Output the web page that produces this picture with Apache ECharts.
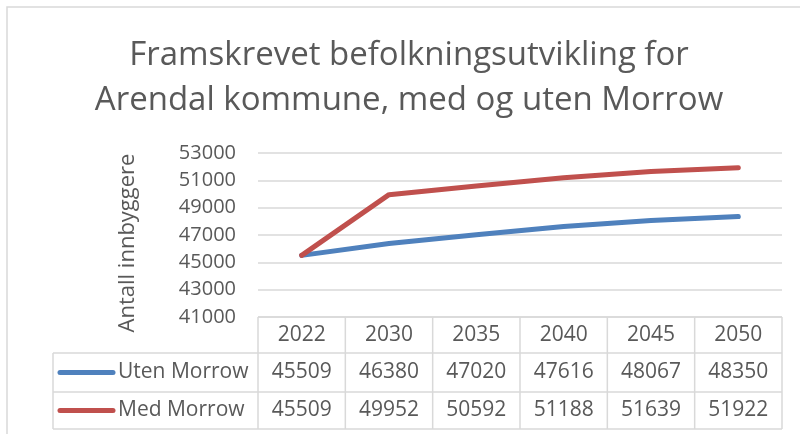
<!DOCTYPE html>
<html>
<head>
<meta charset="utf-8">
<script src="https://cdn.jsdelivr.net/npm/echarts@6/dist/echarts.min.js"></script>
<style>
html, body { margin: 0; padding: 0; background: #fff; }
#main { width: 800px; height: 434px; }
</style>
</head>
<body>
<div id="main"></div>
<script>
var years = ["2022", "2030", "2035", "2040", "2045", "2050"];
var utenMorrow = [45509, 46380, 47020, 47616, 48067, 48350];
var medMorrow = [45509, 49952, 50592, 51188, 51639, 51922];
var seriesNames = ["Uten Morrow", "Med Morrow"];
var seriesColors = ["#4f81bd", "#c0504d"];

var FONT = "Open Sans";
var TXT = "#595959";
var LINE = "#d9d9d9";

var myChart = echarts.init(document.getElementById("main"));
var option = {
  animation: false,
  grid: { left: 258, right: 18, top: 153, bottom: 117 },
  xAxis: {
    type: "category",
    data: years,
    boundaryGap: true,
    axisLine: { show: false },
    axisTick: { show: false },
    axisLabel: { show: false }
  },
  yAxis: {
    type: "value",
    min: 41000,
    max: 53000,
    interval: 2000,
    axisLine: { show: false },
    axisTick: { show: false },
    axisLabel: {
      color: TXT, fontFamily: FONT, fontSize: 20, margin: 22,
      formatter: function (v) { return String(v); }
    },
    splitLine: { lineStyle: { color: LINE, width: 1.5 } }
  },
  series: [
    {
      name: seriesNames[0], type: "line", data: utenMorrow, symbol: "none",
      lineStyle: { color: seriesColors[0], width: 5, cap: "round", join: "round" }
    },
    {
      name: seriesNames[1], type: "line", data: medMorrow, symbol: "none",
      lineStyle: { color: seriesColors[1], width: 5, cap: "round", join: "round" }
    }
  ]
};
myChart.setOption(option);

// data table under the plot
var rows = [utenMorrow, medMorrow];
var rowTop = [317, 353, 392, 429];
var legendLeft = 53;
var x0 = myChart.convertToPixel({ xAxisIndex: 0 }, 0);
var x1 = myChart.convertToPixel({ xAxisIndex: 0 }, 1);
var half = (x1 - x0) / 2;
var gridLeft = x0 - half;
var gridRight = myChart.convertToPixel({ xAxisIndex: 0 }, years.length - 1) + half;

var els = [];
els.push({ type: "rect", shape: { x: 7, y: 7, width: 820, height: 460 },
  style: { fill: null, stroke: LINE, lineWidth: 1.5 }, silent: true });
els.push({ type: "text", x: 409, y: 78,
  style: { text: "Framskrevet befolkningsutvikling for\nArendal kommune, med og uten Morrow",
    fill: TXT, font: "33px '" + FONT + "'", align: "center", verticalAlign: "middle", lineHeight: 45 } });
els.push({ type: "text", x: 128, y: 243, rotation: Math.PI / 2,
  style: { text: "Antall innbyggere", fill: TXT, font: "22px '" + FONT + "'",
    align: "center", verticalAlign: "middle" } });

function hline(xa, xb, y) {
  els.push({ type: "line", shape: { x1: xa, y1: y, x2: xb, y2: y }, style: { stroke: LINE, lineWidth: 1.5 } });
}
function vline(x, ya, yb) {
  els.push({ type: "line", shape: { x1: x, y1: ya, x2: x, y2: yb }, style: { stroke: LINE, lineWidth: 1.5 } });
}
hline(gridLeft, gridRight, rowTop[0]);
for (var r = 1; r < rowTop.length; r++) hline(legendLeft, gridRight, rowTop[r]);
vline(legendLeft, rowTop[1], rowTop[3]);
for (var c = 0; c <= years.length; c++) vline(gridLeft + c * 2 * half, rowTop[0], rowTop[3]);

for (var i = 0; i < years.length; i++) {
  var cx = myChart.convertToPixel({ xAxisIndex: 0 }, i);
  els.push({ type: "text", x: cx, y: (rowTop[0] + rowTop[1]) / 2,
    style: { text: years[i], fill: TXT, font: "21px '" + FONT + "'", align: "center", verticalAlign: "middle" } });
  for (var k = 0; k < rows.length; k++) {
    els.push({ type: "text", x: cx, y: (rowTop[k + 1] + rowTop[k + 2]) / 2,
      style: { text: String(rows[k][i]), fill: TXT, font: "21px '" + FONT + "'", align: "center", verticalAlign: "middle" } });
  }
}
for (var k = 0; k < rows.length; k++) {
  var cy = (rowTop[k + 1] + rowTop[k + 2]) / 2;
  els.push({ type: "line", shape: { x1: 60, y1: cy, x2: 113, y2: cy },
    style: { stroke: seriesColors[k], lineWidth: 5, lineCap: "round" } });
  els.push({ type: "text", x: 118, y: cy,
    style: { text: seriesNames[k], fill: TXT, font: "21px '" + FONT + "'", align: "left", verticalAlign: "middle" } });
}
myChart.setOption({ graphic: { elements: els } });
</script>
</body>
</html>
